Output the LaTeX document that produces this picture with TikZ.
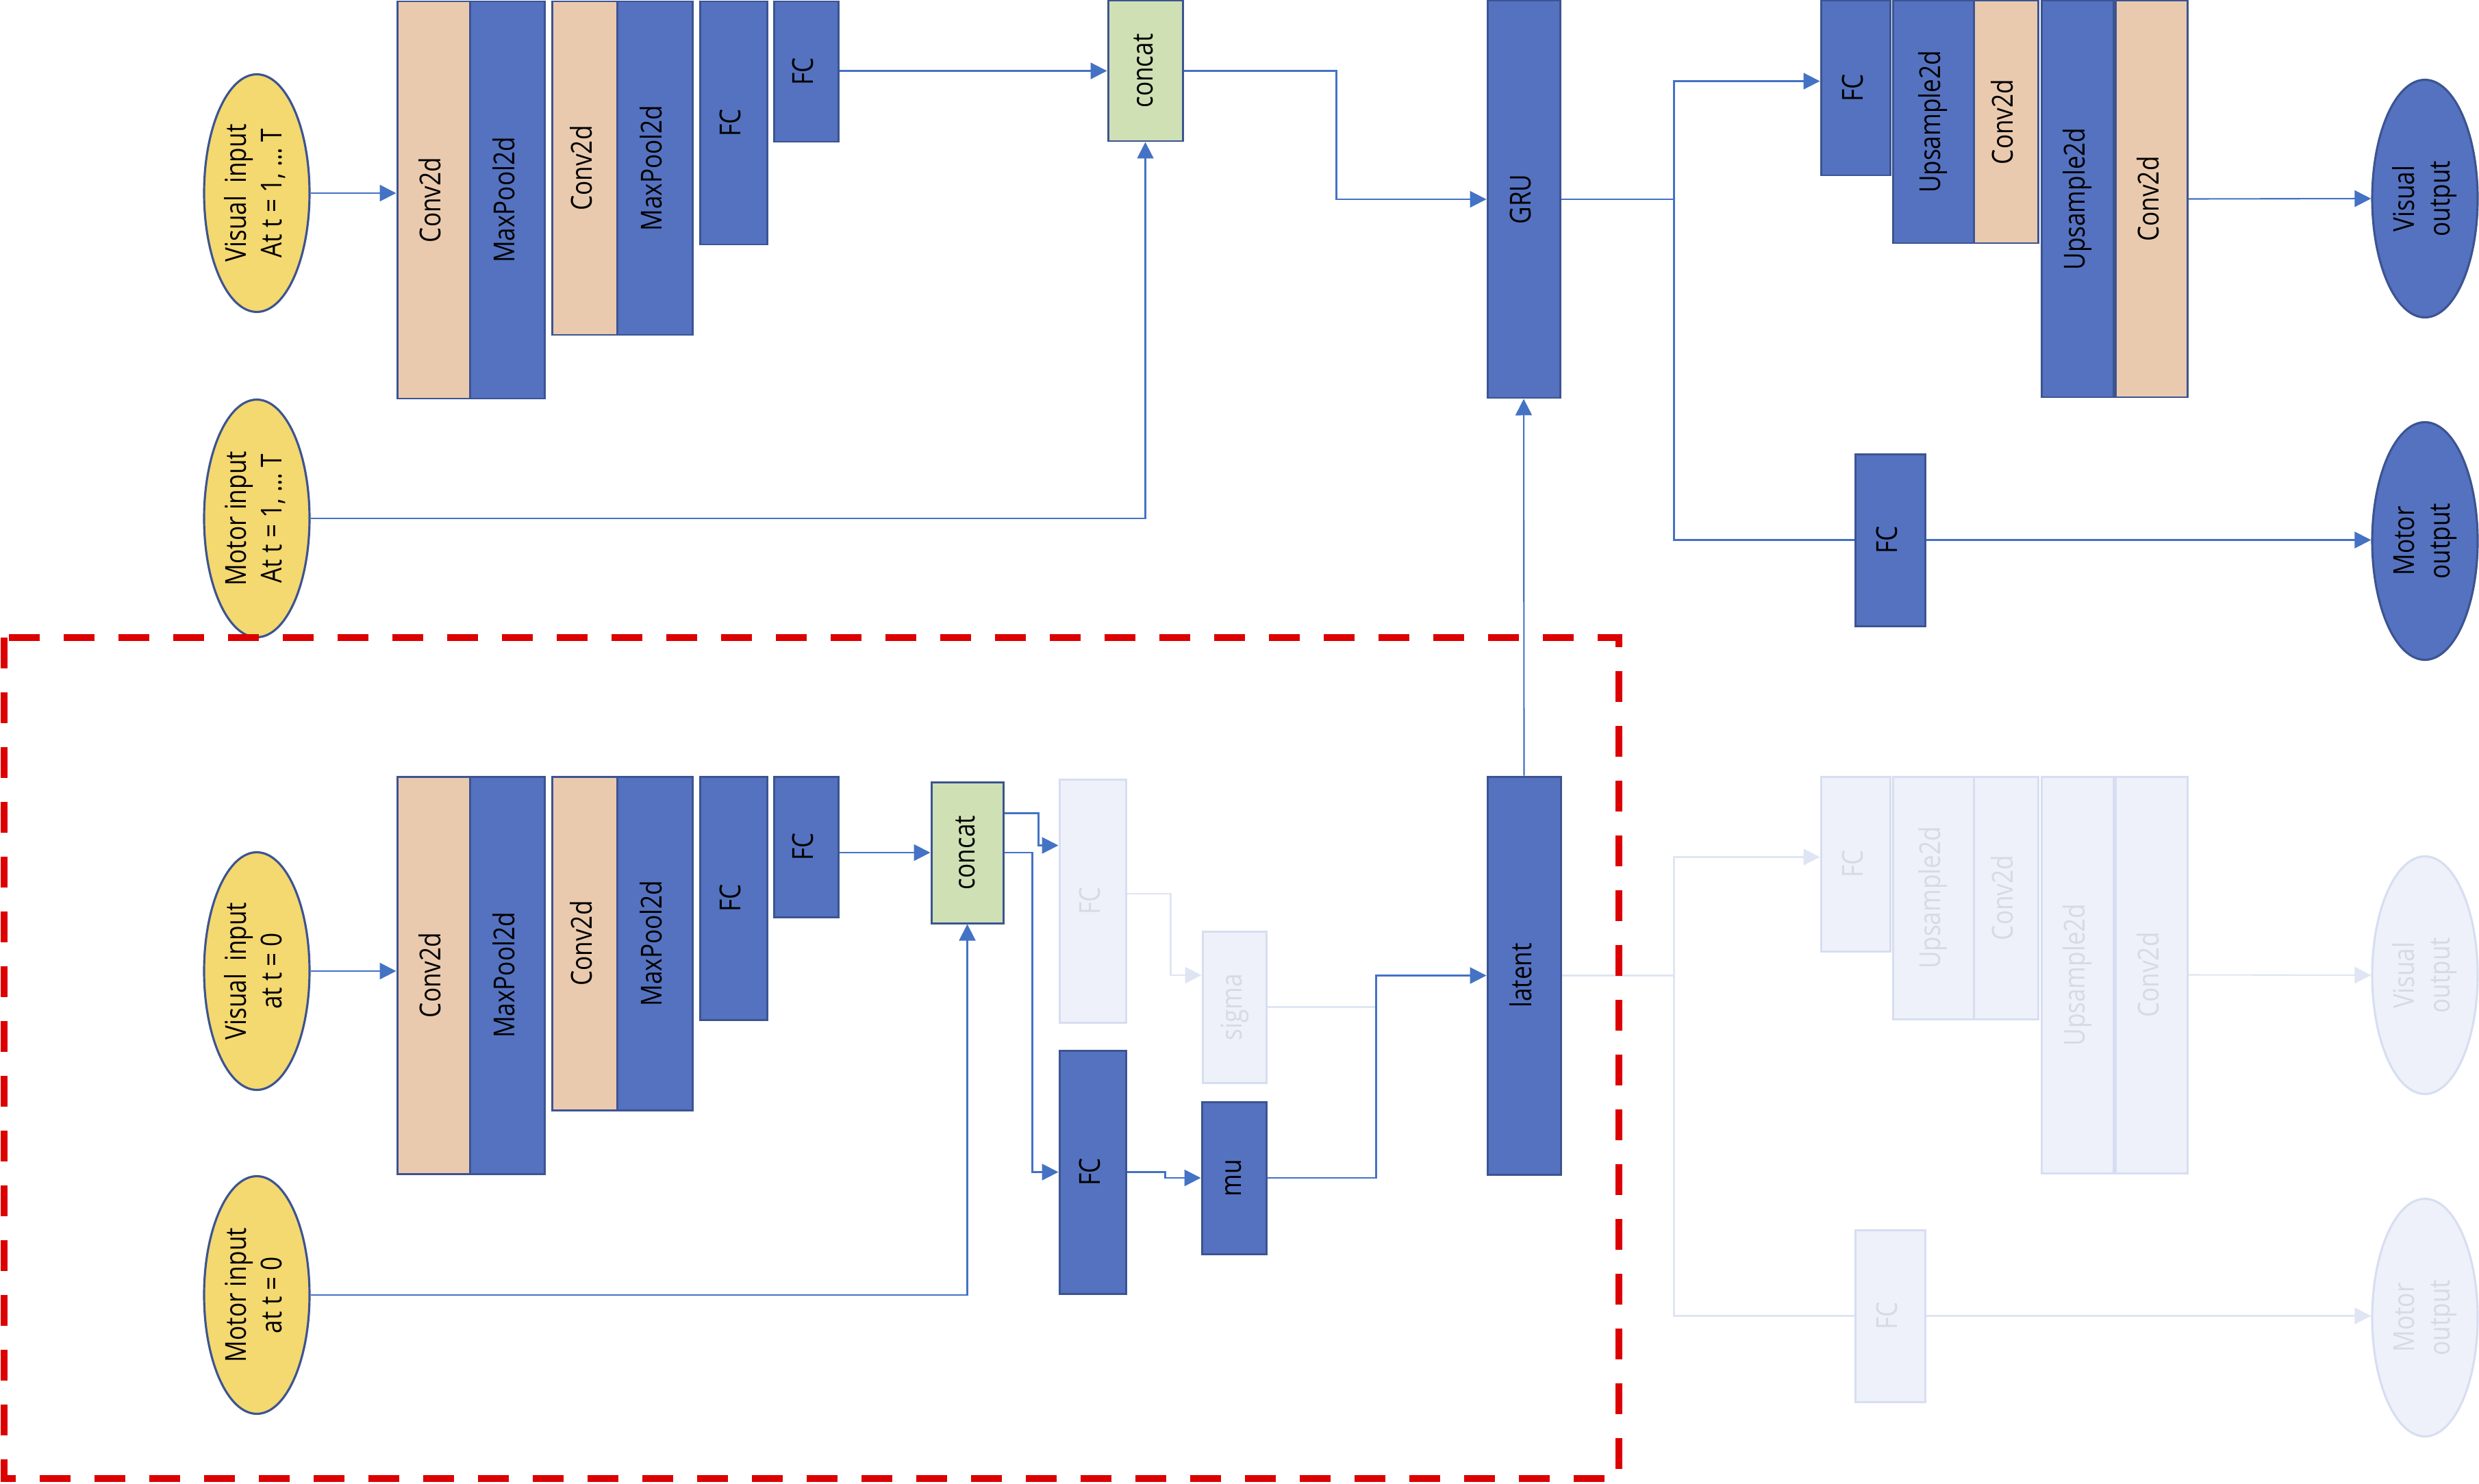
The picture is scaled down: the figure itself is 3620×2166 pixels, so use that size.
\documentclass[tikz,border=0pt]{standalone}
\usepackage{fontspec}
\setmainfont{Open Sans}
\usepackage{graphicx}
\usetikzlibrary{shapes.geometric, arrows.meta}

\definecolor{blockblue}{RGB}{84,114,192}
\definecolor{edgeblue}{RGB}{60,84,145}
\definecolor{wireblue}{RGB}{68,114,196}
\definecolor{convtan}{RGB}{234,202,174}
\definecolor{catgreen}{RGB}{207,224,181}
\definecolor{inyellow}{RGB}{244,216,112}
\definecolor{ghostfill}{RGB}{238,241,250}
\definecolor{ghostedge}{RGB}{215,222,240}
\definecolor{ghosttext}{RGB}{214,218,228}
\definecolor{ghostline}{RGB}{224,229,244}
\definecolor{boxred}{RGB}{220,0,0}

\newcommand{\vlab}[1]{\rotatebox{90}{\scalebox{1}[1.2]{\begin{tabular}{@{}c@{}}#1\end{tabular}}}}

\begin{document}
\begin{tikzpicture}[x=0.1mm, y=-0.1mm,
    layer/.style={rectangle, draw=edgeblue, line width=0.85pt, inner sep=0pt, font=\fontsize{10}{12.5}\selectfont},
    unit/.style={layer, fill=blockblue},
    conv/.style={layer, fill=convtan},
    merge/.style={layer, fill=catgreen},
    ghost/.style={layer, draw=ghostedge, fill=ghostfill, text=ghosttext},
    wh/.style 2 args={minimum width=#1mm, minimum height=#2mm},
    inp/.style={ellipse, draw=edgeblue, fill=inyellow, line width=0.9pt, inner sep=0pt, minimum width=15.4mm, minimum height=34.7mm, font=\fontsize{10}{12.5}\selectfont},
    outp/.style={inp, fill=blockblue},
    ghostout/.style={inp, draw=ghostedge, fill=ghostfill, text=ghosttext},
    wire/.style={draw=wireblue, line width=0.6pt},
    link/.style={wire, -{Triangle[length=2.4mm, width=2.4mm]}},
    fadewire/.style={draw=ghostline, line width=0.6pt},
    fadelink/.style={fadewire, -{Triangle[length=2.4mm, width=2.4mm]}},
    dashbox/.style={draw=boxred, line width=3.1pt, dash pattern=on 4.5mm off 3.5mm}]
    \useasboundingbox (0,0) rectangle (3620,2166);

    % t = 1 ... T
    \node[inp] (visin) at (375,282) {\vlab{Visual~~input\\At t = 1, … T}};
    \node[inp] (motin) at (375,757) {\vlab{Motor input\\At t = 1, … T}};
    \node[conv, wh={10.6}{58}] (conv1) at (633,292) {\vlab{Conv2d}};
    \node[unit, wh={10.9}{58}] (pool1) at (740.5,292) {\vlab{MaxPool2d}};
    \node[conv, wh={9.5}{48.7}] (conv2) at (853.5,245.5) {\vlab{Conv2d}};
    \node[unit, wh={11}{48.7}] (pool2) at (956,245.5) {\vlab{MaxPool2d}};
    \node[unit, wh={9.8}{35.5}] (fca) at (1071,179.5) {\vlab{FC}};
    \node[unit, wh={9.4}{20.5}] (fcb) at (1177,104.5) {\vlab{FC}};
    \node[merge, wh={10.9}{20.5}] (cat) at (1672.5,103.5) {\vlab{concat}};
    \node[unit, wh={10.6}{58}] (gru) at (2225,291) {\vlab{GRU}};

    \node[unit, wh={10.1}{25.5}] (dfc) at (2709.5,128.5) {\vlab{FC}};
    \node[unit, wh={11.8}{35.4}] (up1) at (2823,178) {\vlab{Upsample2d}};
    \node[conv, wh={9.4}{35.4}] (dconv1) at (2929,178) {\vlab{Conv2d}};
    \node[unit, wh={10.5}{57.9}] (up2) at (3033.5,290.5) {\vlab{Upsample2d}};
    \node[conv, wh={10.5}{57.9}] (dconv2) at (3141.5,290.5) {\vlab{Conv2d}};
    \node[outp] (visout) at (3541,290) {\vlab{Visual\\output}};
    \node[unit, wh={10.2}{25.1}] (mfc) at (2760,788.5) {\vlab{FC}};
    \node[outp] (motout) at (3541,790) {\vlab{Motor\\output}};

    \draw[link] (visin.east) -- (visin.east -| conv1.west);
    \draw[link] (cat.west -| fcb.east) -- (cat.west);
    \draw[link] (motin.east) -| (cat.south);
    \draw[link] (cat.east) -- ++(223,0) |- (gru.west);
    \draw[wire] (gru.east) -- ++(165,0) coordinate (split);
    \draw[link] (split) |- ([yshift=1mm]dfc.west);
    \draw[wire] (split) |- (mfc.west);
    \draw[link] (mfc.east) -- (mfc.east -| motout.west);
    \draw[link] (dconv2.east) -- (visout.west);

    % t = 0
    \node[inp] (zvisin) at (375,1418) {\vlab{Visual~~input\\at t = 0}};
    \node[inp] (zmotin) at (375,1891) {\vlab{Motor input\\at t = 0}};
    \node[conv, wh={10.6}{58}] (zconv1) at (633,1424) {\vlab{Conv2d}};
    \node[unit, wh={10.9}{58}] (zpool1) at (740.5,1424) {\vlab{MaxPool2d}};
    \node[conv, wh={9.5}{48.7}] (zconv2) at (853.5,1377.5) {\vlab{Conv2d}};
    \node[unit, wh={11}{48.7}] (zpool2) at (956,1377.5) {\vlab{MaxPool2d}};
    \node[unit, wh={9.8}{35.5}] (zfca) at (1071,1311.5) {\vlab{FC}};
    \node[unit, wh={9.4}{20.5}] (zfcb) at (1177,1236.5) {\vlab{FC}};
    \node[merge, wh={10.5}{20.6}] (zcat) at (1412.5,1245) {\vlab{concat}};
    \node[ghost, wh={9.7}{35.5}] (fcsig) at (1595.5,1315.5) {\vlab{FC}};
    \node[unit, wh={9.7}{35.5}] (fcmu) at (1595.5,1711.5) {\vlab{FC}};
    \node[ghost, wh={9.3}{22.1}] (sig) at (1802.5,1470.5) {\vlab{sigma}};
    \node[unit, wh={9.4}{22.2}] (mu) at (1802,1720) {\vlab{mu}};
    \node[unit, wh={10.7}{58.1}] (lat) at (2225.5,1424.5) {\vlab{latent}};

    \node[ghost, wh={10.1}{25.5}] (zdfc) at (2709.5,1261.5) {\vlab{FC}};
    \node[ghost, wh={11.8}{35.4}] (zup1) at (2823,1311) {\vlab{Upsample2d}};
    \node[ghost, wh={9.4}{35.4}] (zdconv1) at (2929,1311) {\vlab{Conv2d}};
    \node[ghost, wh={10.5}{57.9}] (zup2) at (3033.5,1423.5) {\vlab{Upsample2d}};
    \node[ghost, wh={10.5}{57.9}] (zdconv2) at (3141.5,1423.5) {\vlab{Conv2d}};
    \node[ghostout] (zvisout) at (3541,1424) {\vlab{Visual\\output}};
    \node[ghost, wh={10.2}{25.1}] (zmfc) at (2760,1921.5) {\vlab{FC}};
    \node[ghostout] (zmotout) at (3541,1924) {\vlab{Motor\\output}};

    \draw[fadelink] ([yshift=1.05mm]fcsig.east) -- ++(64,0) |- ([yshift=4.65mm]sig.west);
    \draw[fadewire] (sig.east) -- ++(158,0);
    \draw[fadewire] (lat.east) -- ++(164,0) coordinate (zsplit);
    \draw[fadelink] (zsplit) |- ([yshift=1mm]zdfc.west);
    \draw[fadewire] (zsplit) |- (zmfc.west);
    \draw[fadelink] (zmfc.east) -- (zmfc.east -| zmotout.west);
    \draw[fadelink] (zdconv2.east) -- (zvisout.west);

    \draw[link] (zvisin.east) -- (zvisin.east -| zconv1.west);
    \draw[link] (zcat.west -| zfcb.east) -- (zcat.west);
    \draw[link] (zmotin.east) -| (zcat.south);
    \draw[link] ([yshift=-4.7mm]zcat.north east) -- ++(50,0) |- ([yshift=-9.8mm]fcsig.north west);
    \draw[link] (zcat.east) -- ++(41,0) |- (fcmu.west);
    \draw[link] (fcmu.east) -- ++(56,0) |- (mu.west);
    \draw[link] (mu.east) -- ++(159,0) |- (lat.west);
    \draw[link] (lat.north) -- (gru.south);

    \draw[dashbox] (6,931) rectangle (2364,2159);
\end{tikzpicture}
\end{document}
